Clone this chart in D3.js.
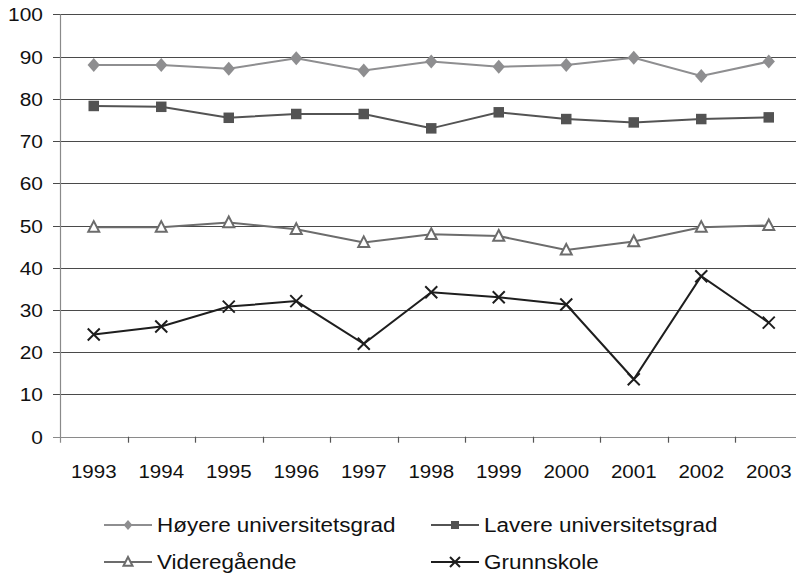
<!DOCTYPE html>
<html>
<head>
<meta charset="utf-8">
<script src="https://cdn.jsdelivr.net/npm/d3@7"></script>
<style>
  body { margin: 0; background: #fff; }
  svg { display: block; font-family: "Liberation Sans", Arial, sans-serif; }
</style>
</head>
<body>
<svg id="chart" width="796" height="573"></svg>
<script>
const years = ['1993', '1994', '1995', '1996', '1997', '1998', '1999', '2000', '2001', '2002', '2003']
const yTicks = [0, 10, 20, 30, 40, 50, 60, 70, 80, 90, 100]

const hoyere = [88.0, 88.0, 87.1, 89.6, 86.7, 88.8, 87.6, 88.0, 89.7, 85.4, 88.8]
const lavere = [78.3, 78.1, 75.5, 76.4, 76.4, 73.0, 76.8, 75.2, 74.4, 75.2, 75.6]
const videre = [49.6, 49.6, 50.7, 49.1, 46.0, 47.9, 47.5, 44.2, 46.2, 49.6, 50.0]
const grunn = [24.2, 26.1, 30.8, 32.1, 22.0, 34.2, 33.0, 31.3, 13.6, 38.0, 27.0]

const seriesNames = ['Høyere universitetsgrad', 'Lavere universitetsgrad', 'Videregående', 'Grunnskole']

// custom marker shapes, size = height in px
const diamond = {
  draw(ctx, size) {
    const w = size * 0.44, h = size * 0.5
    ctx.moveTo(0, -h); ctx.lineTo(w, 0); ctx.lineTo(0, h); ctx.lineTo(-w, 0); ctx.closePath()
  }
}
const square = {
  draw(ctx, size) {
    const s = size / 2
    ctx.moveTo(-s, -s); ctx.lineTo(s, -s); ctx.lineTo(s, s); ctx.lineTo(-s, s); ctx.closePath()
  }
}
const triangle = {
  draw(ctx, size) {
    const w = size / 2
    ctx.moveTo(0, -size * 0.55); ctx.lineTo(w, size * 0.42); ctx.lineTo(-w, size * 0.42); ctx.closePath()
  }
}
const cross = {
  draw(ctx, size) {
    const s = size / 2
    ctx.moveTo(-s, -s); ctx.lineTo(s, s); ctx.moveTo(s, -s); ctx.lineTo(-s, s)
  }
}

const series = [
  { name: seriesNames[0], values: hoyere, color: '#8e8e90', shape: diamond, size: 14, legSize: 10, fill: '#8e8e90', mStroke: 'none', mWidth: 0 },
  { name: seriesNames[1], values: lavere, color: '#535353', shape: square, size: 10.5, legSize: 8, fill: '#535353', mStroke: 'none', mWidth: 0 },
  { name: seriesNames[2], values: videre, color: '#6c6c6c', shape: triangle, size: 11, legSize: 9, fill: '#fff', mStroke: '#6c6c6c', mWidth: 2 },
  { name: seriesNames[3], values: grunn, color: '#1e1e1e', shape: cross, size: 12, legSize: 10, fill: 'none', mStroke: '#1e1e1e', mWidth: 2 }
]

const svg = d3.select('#chart')

const step = 67.5
const x = d3.scaleBand()
  .domain(years)
  .range([60, 60 + years.length * step])
  .paddingInner(0)
  .paddingOuter(0)

const y = d3.scaleLinear()
  .domain([0, 100])
  .range([436.7, 14.3])

const cx = (yr) => x(yr) + x.bandwidth() / 2

// gridlines
svg.append('g')
  .selectAll('line')
  .data(yTicks)
  .enter()
  .append('line')
  .attr('x1', 53)
  .attr('x2', 796)
  .attr('y1', (d) => Math.round(y(d)) + 0.5)
  .attr('y2', (d) => Math.round(y(d)) + 0.5)
  .attr('stroke', (d) => d === 0 ? '#8a8a8a' : '#4a4a4a')
  .attr('stroke-width', 1.2)

// y axis line
svg.append('line')
  .attr('x1', 60.5).attr('x2', 60.5)
  .attr('y1', y(100)).attr('y2', y(0) + 6)
  .attr('stroke', '#8a8a8a')
  .attr('stroke-width', 1.2)

// x tick marks between categories
svg.append('g')
  .selectAll('line')
  .data(years.slice(1))
  .enter()
  .append('line')
  .attr('x1', (d) => Math.round(x(d)) + 0.5)
  .attr('x2', (d) => Math.round(x(d)) + 0.5)
  .attr('y1', y(0))
  .attr('y2', y(0) + 6)
  .attr('stroke', '#555')
  .attr('stroke-width', 1.2)

// y labels
svg.append('g')
  .selectAll('text')
  .data(yTicks)
  .enter()
  .append('text')
  .attr('text-anchor', 'end')
  .attr('font-size', '19px')
  .attr('fill', '#111')
  .attr('transform', (d) => `translate(43,${y(d) + 7}) scale(1.1,1)`)
  .text((d) => d)

// x labels
svg.append('g')
  .selectAll('text')
  .data(years)
  .enter()
  .append('text')
  .attr('text-anchor', 'middle')
  .attr('font-size', '19px')
  .attr('fill', '#111')
  .attr('transform', (d) => `translate(${cx(d)},478) scale(1.08,1)`)
  .text((d) => d)

const line = d3.line()
  .x((d, i) => cx(years[i]))
  .y((d) => y(d))

const gSeries = svg.append('g')
  .selectAll('g')
  .data(series)
  .enter()
  .append('g')

gSeries.append('path')
  .attr('d', (s) => line(s.values))
  .attr('fill', 'none')
  .attr('stroke', (s) => s.color)
  .attr('stroke-width', 2)

gSeries.each(function (s) {
  d3.select(this)
    .selectAll('path.marker')
    .data(s.values)
    .enter()
    .append('path')
    .attr('class', 'marker')
    .attr('d', d3.symbol().type(s.shape).size(s.size))
    .attr('transform', (d, i) => `translate(${cx(years[i])},${y(d)})`)
    .attr('fill', s.fill)
    .attr('stroke', s.mStroke)
    .attr('stroke-width', s.mWidth)
})

// legend
const legendPos = [
  { lx: 104, ly: 525 },
  { lx: 431, ly: 525 },
  { lx: 104, ly: 562 },
  { lx: 431, ly: 562 }
]

const leg = svg.append('g')
  .selectAll('g')
  .data(series)
  .enter()
  .append('g')
  .attr('transform', (s, i) => `translate(${legendPos[i].lx},${legendPos[i].ly})`)

leg.append('line')
  .attr('x1', 0).attr('x2', 48)
  .attr('y1', 0).attr('y2', 0)
  .attr('stroke', (s) => s.color)
  .attr('stroke-width', 2)

leg.append('path')
  .attr('d', (s) => d3.symbol().type(s.shape).size(s.legSize)())
  .attr('transform', 'translate(24,0)')
  .attr('fill', (s) => s.fill)
  .attr('stroke', (s) => s.mStroke)
  .attr('stroke-width', (s) => s.mWidth)

leg.append('text')
  .attr('font-size', '21px')
  .attr('fill', '#111')
  .attr('transform', 'translate(53,7) scale(1.07,1)')
  .text((s) => s.name)
</script>
</body>
</html>
